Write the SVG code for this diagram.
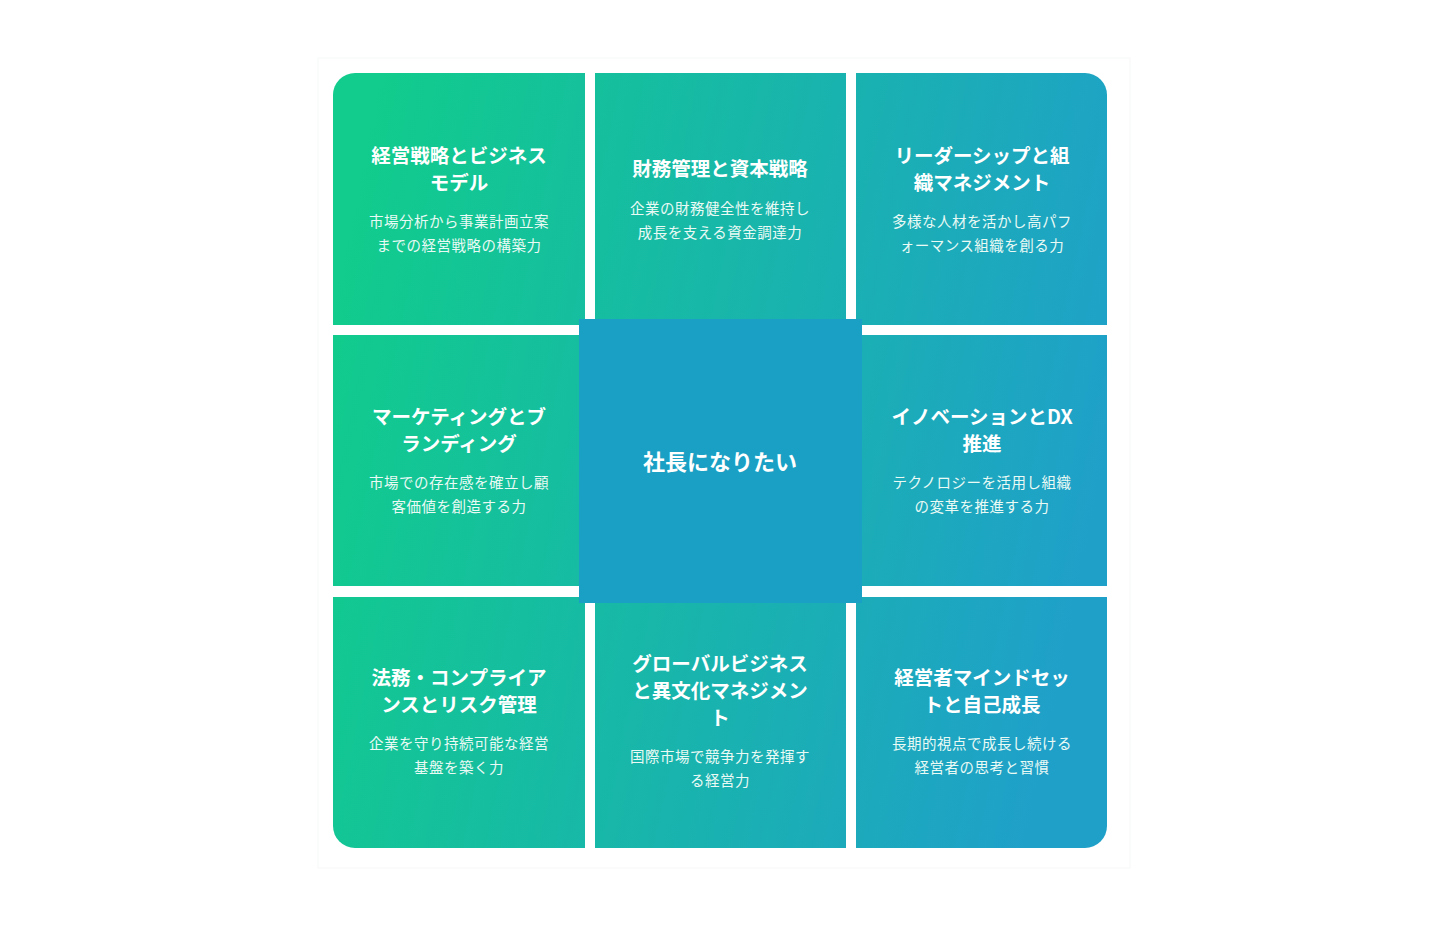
<svg xmlns="http://www.w3.org/2000/svg" width="1446" height="927" viewBox="0 0 1446 927">
<defs>
<linearGradient id="g" gradientUnits="userSpaceOnUse" x1="333" y1="300" x2="1107" y2="460">
<stop offset="0" stop-color="#11cc8c"/><stop offset="1" stop-color="#1fa0c9"/>
</linearGradient>
<clipPath id="c"><rect x="333" y="73" width="774" height="775" rx="22"/></clipPath>
</defs>
<style>
.cell{fill:url(#g)}
.t{font-family:"Noto Sans CJK JP","Noto Sans",sans-serif;font-weight:700;font-size:19.5px;fill:#fff;text-anchor:middle}
.d{font-family:"Noto Sans CJK JP","Noto Sans",sans-serif;font-size:14.5px;fill:#eafaf5;text-anchor:middle;letter-spacing:0.5px}
</style>
<rect width="1446" height="927" fill="#fff"/>
<rect x="318" y="58" width="812" height="810" fill="#fff" stroke="#f6f7f8" stroke-width="1"/>
<g clip-path="url(#c)">
<g id="n1"><rect class="cell" x="333" y="73" width="252" height="252"/>
<text class="t" x="459" y="163">経営戦略とビジネス</text><text class="t" x="459" y="190">モデル</text>
<text class="d" x="459" y="227">市場分析から事業計画立案</text><text class="d" x="459" y="251">までの経営戦略の構築力</text></g>
<g id="n2"><rect class="cell" x="595" y="73" width="251" height="252"/>
<text class="t" x="720" y="176">財務管理と資本戦略</text>
<text class="d" x="720" y="214">企業の財務健全性を維持し</text><text class="d" x="720" y="238">成長を支える資金調達力</text></g>
<g id="n3"><rect class="cell" x="856" y="73" width="251" height="252"/>
<text class="t" x="982" y="163">リーダーシップと組</text><text class="t" x="982" y="190">織マネジメント</text>
<text class="d" x="982" y="227">多様な人材を活かし高パフ</text><text class="d" x="982" y="251">ォーマンス組織を創る力</text></g>
<g id="n4"><rect class="cell" x="333" y="335" width="252" height="251"/>
<text class="t" x="459" y="424">マーケティングとブ</text><text class="t" x="459" y="451">ランディング</text>
<text class="d" x="459" y="488">市場での存在感を確立し顧</text><text class="d" x="459" y="512">客価値を創造する力</text></g>
<g id="n6"><rect class="cell" x="856" y="335" width="251" height="251"/>
<text class="t" x="982" y="424">イノベーションとDX</text><text class="t" x="982" y="451">推進</text>
<text class="d" x="982" y="488">テクノロジーを活用し組織</text><text class="d" x="982" y="512">の変革を推進する力</text></g>
<g id="n7"><rect class="cell" x="333" y="597" width="252" height="251"/>
<text class="t" x="459" y="685">法務・コンプライア</text><text class="t" x="459" y="712">ンスとリスク管理</text>
<text class="d" x="459" y="749">企業を守り持続可能な経営</text><text class="d" x="459" y="773">基盤を築く力</text></g>
<g id="n8"><rect class="cell" x="595" y="597" width="251" height="251"/>
<text class="t" x="720" y="671">グローバルビジネス</text><text class="t" x="720" y="698">と異文化マネジメン</text><text class="t" x="720" y="725">ト</text>
<text class="d" x="720" y="762">国際市場で競争力を発揮す</text><text class="d" x="720" y="786">る経営力</text></g>
<g id="n9"><rect class="cell" x="856" y="597" width="251" height="251"/>
<text class="t" x="982" y="685">経営者マインドセッ</text><text class="t" x="982" y="712">トと自己成長</text>
<text class="d" x="982" y="749">長期的視点で成長し続ける</text><text class="d" x="982" y="773">経営者の思考と習慣</text></g>
</g>
<g id="center"><rect x="579" y="319" width="283" height="284" fill="#19a0c4"/>
<text class="t" x="720" y="470" style="font-size:22px">社長になりたい</text></g>
<g id="connectors"/>
</svg>
